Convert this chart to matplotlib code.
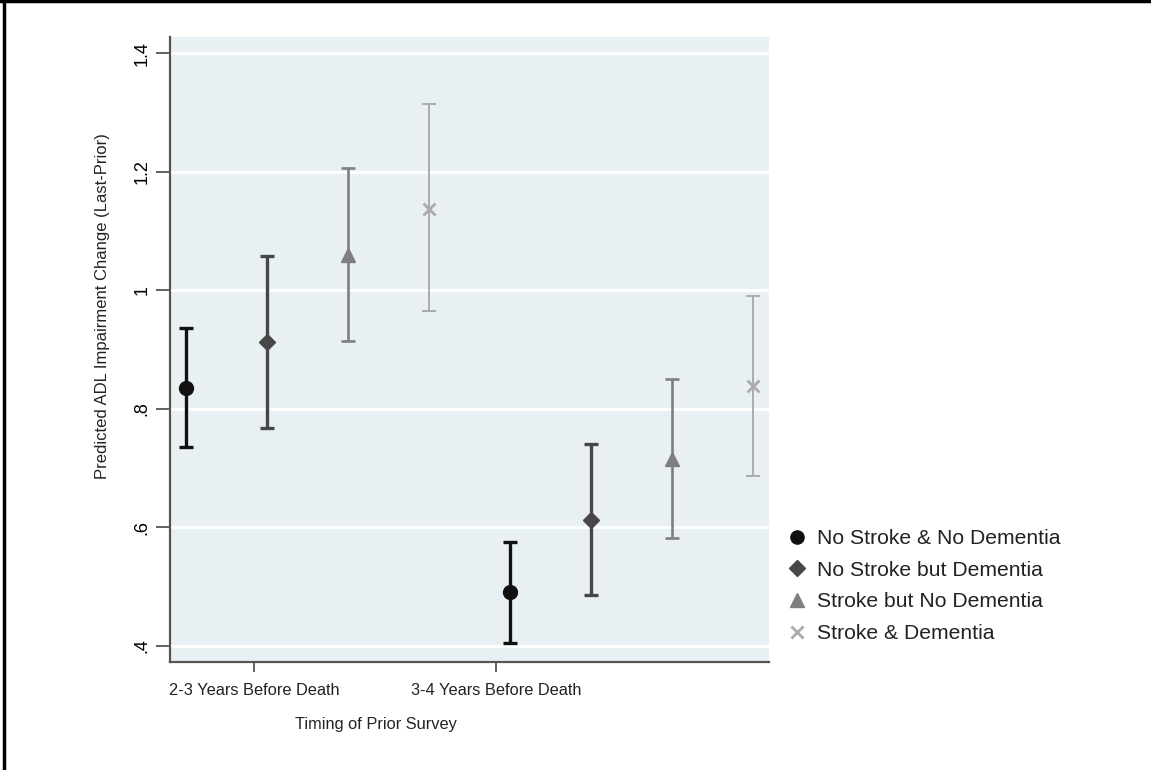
import matplotlib.pyplot as plt
from matplotlib.lines import Line2D

plt.rcParams['font.family'] = ['Liberation Sans', 'DejaVu Sans']

groups = ['2-3 Years Before Death', '3-4 Years Before Death']
series = ['No Stroke & No Dementia', 'No Stroke but Dementia',
          'Stroke but No Dementia', 'Stroke & Dementia']
# predicted value, lower CI, upper CI  (per group)
est = {
    'No Stroke & No Dementia': [0.835, 0.490],
    'No Stroke but Dementia': [0.913, 0.612],
    'Stroke but No Dementia': [1.060, 0.716],
    'Stroke & Dementia': [1.138, 0.838],
}
lo = {
    'No Stroke & No Dementia': [0.735, 0.405],
    'No Stroke but Dementia': [0.767, 0.485],
    'Stroke but No Dementia': [0.915, 0.582],
    'Stroke & Dementia': [0.965, 0.686],
}
hi = {
    'No Stroke & No Dementia': [0.937, 0.576],
    'No Stroke but Dementia': [1.058, 0.740],
    'Stroke but No Dementia': [1.206, 0.851],
    'Stroke & Dementia': [1.315, 0.990],
}
yticks = [0.4, 0.6, 0.8, 1.0, 1.2, 1.4]
ylabels = ['.4', '.6', '.8', '1', '1.2', '1.4']

markers = ['o', 'D', '^', 'x']
colors = ['#111111', '#474747', '#7f7f7f', '#ababab']
msizes = [10, 8.5, 10, 9]
lws = [2.4, 2.4, 1.9, 1.4]

fig = plt.figure(figsize=(11.51, 7.70), dpi=100)
ax = fig.add_axes([170 / 1151, 108 / 770, 599 / 1151, 625 / 770])
ax.set_facecolor('#e9f0f3')

for i, s in enumerate(series):
    for g in range(2):
        x = g * 4 + i
        y = est[s][g]
        ax.errorbar([x], [y], yerr=[[y - lo[s][g]], [hi[s][g] - y]],
                    fmt='none', ecolor=colors[i], elinewidth=lws[i],
                    capsize=5, capthick=lws[i], zorder=3)
        ax.plot([x], [y], marker=markers[i], color=colors[i], ms=msizes[i],
                mew=2 if markers[i] == 'x' else 1, linestyle='none', zorder=4)

ax.set_xlim(-0.194, 7.193)
ax.set_ylim(0.3726, 1.4276)
ax.set_yticks(yticks)
ax.set_yticklabels(ylabels, rotation=90, va='center', fontsize=13)
ax.set_xticks([0.842, 3.826])
ax.set_xticklabels(groups, fontsize=11.8, color='#222222')
ax.tick_params(axis='y', length=10, width=1.3, color='#555555', pad=4)
ax.tick_params(axis='x', length=7, width=1.3, color='#555555', pad=8)
ax.grid(axis='y', color='white', linewidth=2)
ax.set_axisbelow(True)
for sp in ['top', 'right']:
    ax.spines[sp].set_visible(False)
for sp in ['left', 'bottom']:
    ax.spines[sp].set_color('#555555')
    ax.spines[sp].set_linewidth(1.6)

fig.text(376 / 1151, 1 - 725 / 770, 'Timing of Prior Survey', ha='center',
         va='center', fontsize=11.8, color='#222222')
fig.text(103 / 1151, 1 - 306 / 770, 'Predicted ADL Impairment Change (Last-Prior)',
         rotation=90, ha='center', va='center', fontsize=12, color='#222222')

handles = [Line2D([], [], marker=markers[i], color=colors[i], linestyle='none',
                  ms=msizes[i] * 0.95, mew=2 if markers[i] == 'x' else 1)
           for i in range(4)]
fig.legend(handles, series, loc='upper left',
           bbox_to_anchor=(784 / 1151, 1 - 529 / 770), frameon=False,
           fontsize=15.25, handletextpad=0.38, labelspacing=0.6,
           handlelength=1.2, borderaxespad=0, borderpad=0,
           labelcolor='#222222')

# frame edges of the original clipping
fig.add_artist(Line2D([0, 1], [1 - 1 / 770, 1 - 1 / 770], color='black', lw=2.5,
                      transform=fig.transFigure))
fig.add_artist(Line2D([4 / 1151, 4 / 1151], [0, 1], color='black', lw=2.5,
                      transform=fig.transFigure))

fig.savefig('out.png', dpi=100)
